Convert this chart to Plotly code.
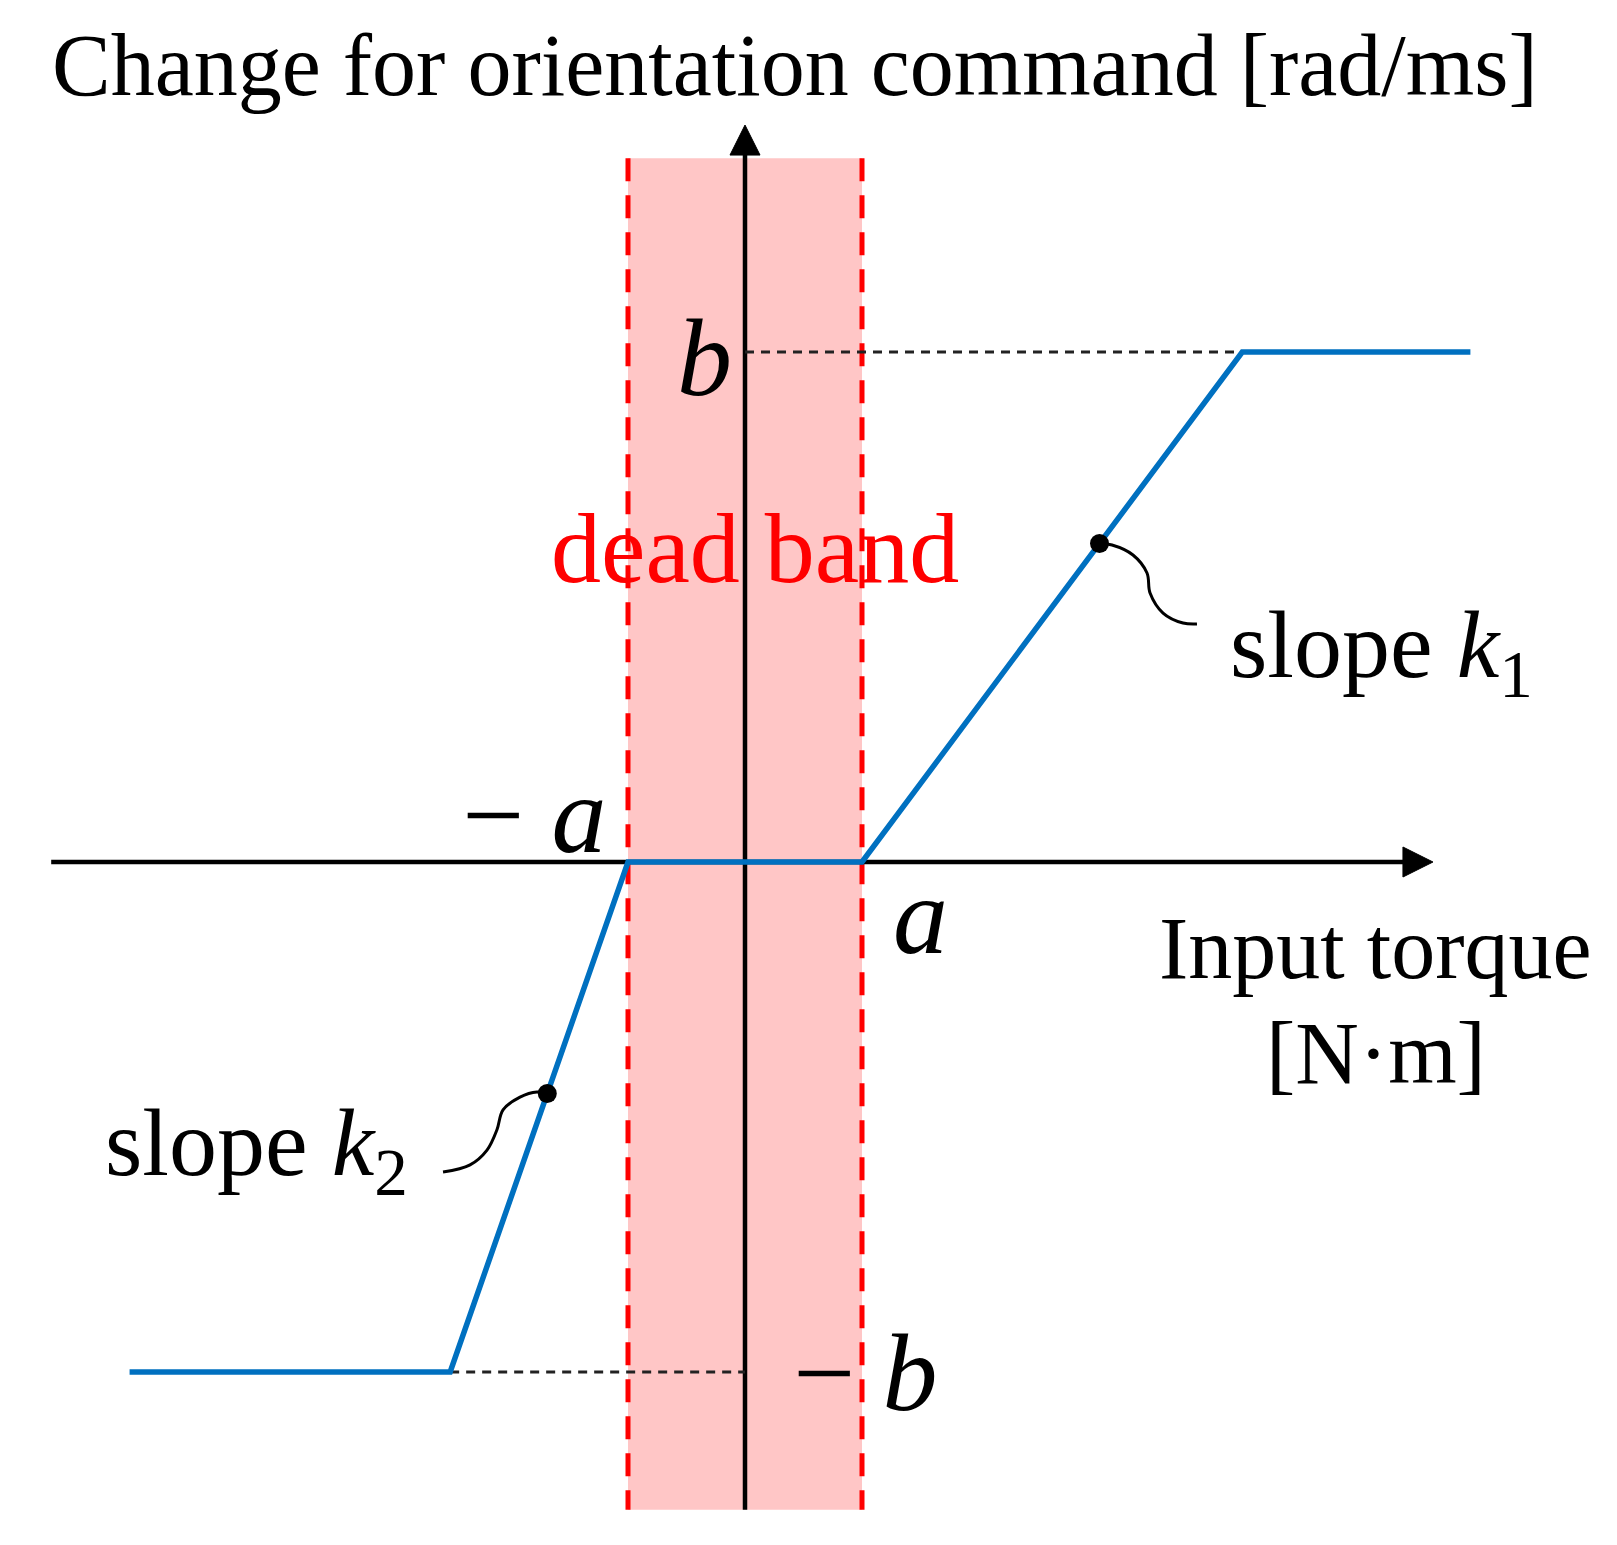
import plotly.graph_objects as go
import numpy as np

# ---------------- data (normalised: a = dead-band half width, b = saturation) -------------
a = 1.0
b = 1.0
torque = [-5.26, -2.52, -a, a, 4.25, 6.2]          # input torque breakpoints
command = [-b, -b, 0.0, 0.0, b, b]                  # change for orientation command
band_y = [-1.27, 1.38]                               # vertical extent of the dead-band strip
x_axis_span = [-5.93, 5.88]
y_axis_span = [-1.27, 1.445]
dot_torque = [3.03, -1.69]                           # points marked on the slopes
leader1_x = [3.03, 3.137, 3.316, 3.436, 3.462, 3.573, 3.744, 3.863]
leader1_y = [0.6246, 0.6216, 0.602, 0.5667, 0.5275, 0.4882, 0.4686, 0.4667]
leader2_x = [-1.69, -1.778, -1.923, -2.068, -2.120, -2.205, -2.350, -2.581]
leader2_y = [-0.454, -0.451, -0.461, -0.486, -0.525, -0.565, -0.594, -0.608]

# ---------------- page / scale ----------------
W, H = 1617, 1545
PAD = 8                       # default body margin of the html page
OX, OY = 745, 862             # page pixel of the origin
SX, SY = 117.0, 510.0         # pixels per unit
x_range = [(PAD - OX) / SX, (W - PAD - OX) / SX]
y_range = [(OY - (H - PAD)) / SY, (OY - PAD) / SY]

SERIF = "Liberation Serif, Times New Roman, serif"
BLUE = "#0070C0"
RED = "#FF0000"
PINK = "#FFC6C6"

fig = go.Figure()

# dead band strip
fig.add_shape(type="rect", x0=-a, x1=a, y0=band_y[0], y1=band_y[1],
              fillcolor=PINK, line_width=0, layer="below")

# red dashed borders
for xv in (-a, a):
    fig.add_trace(go.Scatter(x=[xv, xv], y=[band_y[1], band_y[0]], mode="lines",
                             line=dict(color=RED, width=5, dash="23px,14px"),
                             hoverinfo="skip", showlegend=False))

# axes
ah_len_x, ah_half_x = 30 / SX, 15 / SY
ah_len_y, ah_half_y = 30 / SY, 15 / SX
fig.add_trace(go.Scatter(x=[x_axis_span[0], x_axis_span[1] - ah_len_x * 0.5], y=[0, 0],
                         mode="lines", line=dict(color="black", width=4.5),
                         hoverinfo="skip", showlegend=False))
fig.add_trace(go.Scatter(x=[0, 0], y=[y_axis_span[0], y_axis_span[1] - ah_len_y * 0.5],
                         mode="lines", line=dict(color="black", width=4.5),
                         hoverinfo="skip", showlegend=False))
tx = x_axis_span[1]
fig.add_trace(go.Scatter(x=[tx - ah_len_x, tx, tx - ah_len_x, tx - ah_len_x],
                         y=[ah_half_x, 0, -ah_half_x, ah_half_x],
                         mode="lines", fill="toself", fillcolor="black",
                         line=dict(color="black", width=1),
                         hoverinfo="skip", showlegend=False))
ty = y_axis_span[1]
fig.add_trace(go.Scatter(x=[-ah_half_y, 0, ah_half_y, -ah_half_y],
                         y=[ty - ah_len_y, ty, ty - ah_len_y, ty - ah_len_y],
                         mode="lines", fill="toself", fillcolor="black",
                         line=dict(color="black", width=1),
                         hoverinfo="skip", showlegend=False))

# black dashed guide lines to +-b
fig.add_trace(go.Scatter(x=[0, torque[4]], y=[b, b], mode="lines",
                         line=dict(color="#222222", width=3, dash="9px,7px"),
                         hoverinfo="skip", showlegend=False))
fig.add_trace(go.Scatter(x=[torque[1], 0], y=[-b, -b], mode="lines",
                         line=dict(color="#222222", width=3, dash="9px,7px"),
                         hoverinfo="skip", showlegend=False))

# characteristic curve
fig.add_trace(go.Scatter(x=torque, y=command, mode="lines",
                         line=dict(color=BLUE, width=5.5),
                         hoverinfo="skip", showlegend=False))

# leader lines
for lx, ly in ((leader1_x, leader1_y), (leader2_x, leader2_y)):
    fig.add_trace(go.Scatter(x=lx, y=ly, mode="lines",
                             line=dict(color="black", width=3, shape="spline", smoothing=1.0),
                             hoverinfo="skip", showlegend=False))

# dots on the slopes
dot_y = list(np.interp(dot_torque, torque, command))
fig.add_trace(go.Scatter(x=dot_torque, y=dot_y, mode="markers",
                         marker=dict(color="black", size=19),
                         hoverinfo="skip", showlegend=False))

# ---------------- texts ----------------
def label(text, x, y, size, color="black", xanchor="center"):
    fig.add_annotation(text=text, x=x, y=y, xref="x", yref="y", showarrow=False,
                       xanchor=xanchor, yanchor="middle",
                       font=dict(family=SERIF, size=size, color=color))

label("Change for orientation command [rad/ms]", 0.427, 1.562, 88)
label("<i>b</i>", -0.35, 0.988, 110)
label("\u2212 <i>b</i>", 1.03, -1.002, 110)
label("\u2212 <i>a</i>", -1.795, 0.092, 110)
label("<i>a</i>", 1.504, -0.106, 110)
label("dead band", 0.0855, 0.614, 100, color=RED)
label("slope <i>k</i><sub>1</sub>", 4.128, 0.4125, 96, xanchor="left")
label("slope <i>k</i><sub>2</sub>", -5.487, -0.564, 96, xanchor="left")
label("Input torque", 5.393, -0.169, 88)
label("[N\u00b7m]", 5.393, -0.375, 88)

fig.update_layout(
    width=W - 2 * PAD, height=H - 2 * PAD,
    margin=dict(l=0, r=0, t=0, b=0),
    paper_bgcolor="white", plot_bgcolor="white",
    xaxis=dict(range=x_range, visible=False, fixedrange=True),
    yaxis=dict(range=y_range, visible=False, fixedrange=True),
    showlegend=False,
)

fig.write_html("out.html")
